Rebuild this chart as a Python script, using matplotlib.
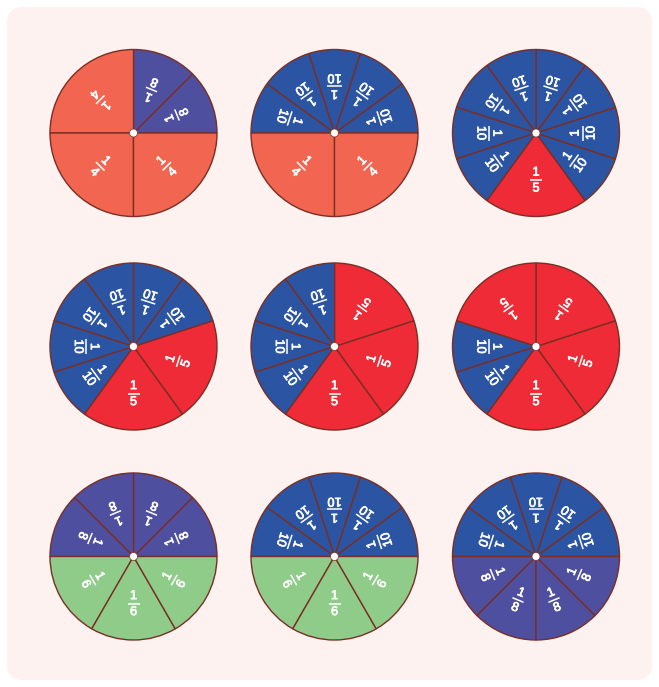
import matplotlib
matplotlib.use("Agg")
import matplotlib.pyplot as plt
from matplotlib.patches import FancyBboxPatch, Circle
import matplotlib.patheffects as pe
import numpy as np

W, H = 659, 687

# each circle: denominators of its slices (counter-clockwise) and start angle
denoms = [
    [8, 8, 4, 4, 4],
    [10, 10, 10, 10, 10, 4, 4],
    [5, 10, 10, 10, 10, 10, 10, 10, 10],
    [5, 5, 10, 10, 10, 10, 10, 10],
    [5, 5, 5, 10, 10, 10, 10],
    [5, 5, 5, 5, 10, 10],
    [8, 8, 8, 8, 6, 6, 6],
    [10, 10, 10, 10, 10, 6, 6, 6],
    [10, 10, 10, 10, 10, 8, 8, 8, 8],
]
start_angles = [0, 0, 234, 234, 234, 234, 0, 0, 0]

colors = {4: '#f26651', 5: '#ee2b36', 6: '#8fcb89', 8: '#4f4f9f', 10: '#2b55a3'}
edge = '#7a2e24'

col_x = [133.5, 334.5, 536]
row_y = [133, 346.5, 556.5]
radius = 83.5

fig = plt.figure(figsize=(W / 100, H / 100), dpi=100)
ax = fig.add_axes([0, 0, 1, 1])

bg = FancyBboxPatch((7, 7), W - 14, H - 14, boxstyle="round,pad=0,rounding_size=16",
                    fc='#fdf2ef', ec='none', zorder=0)
ax.add_patch(bg)

fx = [pe.withStroke(linewidth=0.5, foreground='white')]


def fraction(x, y, d, rot):
    r = np.deg2rad(rot)
    ux, uy = -np.sin(r), np.cos(r)   # text "up"
    vx, vy = np.cos(r), np.sin(r)    # text "right"
    kw = dict(color='white', fontsize=9.2, family='Liberation Sans', rotation=rot,
              rotation_mode='anchor', ha='center', va='center',
              path_effects=fx, zorder=6)
    ax.text(x + ux * 8.0, y + uy * 8.0, "1", **kw)
    ax.text(x - ux * 8.0, y - uy * 8.0, str(d), **kw)
    hw = 7.5 if d >= 10 else 6.0
    bx, by = x + ux * 0.5, y + uy * 0.5
    ax.plot([bx - vx * hw, bx + vx * hw], [by - vy * hw, by + vy * hw],
            color='white', lw=1.1, solid_capstyle='butt', zorder=6)


for i, (ds, sa) in enumerate(zip(denoms, start_angles)):
    cx = col_x[i % 3]
    cy = H - row_y[i // 3]
    fr = [1 / d for d in ds]
    wedges, _ = ax.pie(fr, colors=[colors[d] for d in ds], startangle=sa,
                       counterclock=True, center=(cx, cy), radius=radius, frame=True,
                       wedgeprops=dict(edgecolor=edge, linewidth=1.0))
    for w, d in zip(wedges, ds):
        mid = np.deg2rad((w.theta1 + w.theta2) / 2)
        tx = cx + 0.57 * radius * np.cos(mid)
        ty = cy + 0.57 * radius * np.sin(mid)
        rot = (np.rad2deg(mid) + 90) % 360
        fraction(tx, ty, d, rot)
    ax.add_patch(Circle((cx, cy), 4, fc='white', ec=edge, lw=0.5, zorder=5))

ax.set_xlim(0, W)
ax.set_ylim(0, H)
ax.set_aspect('equal')
ax.axis('off')

fig.savefig('out.png', dpi=100, facecolor='white')
